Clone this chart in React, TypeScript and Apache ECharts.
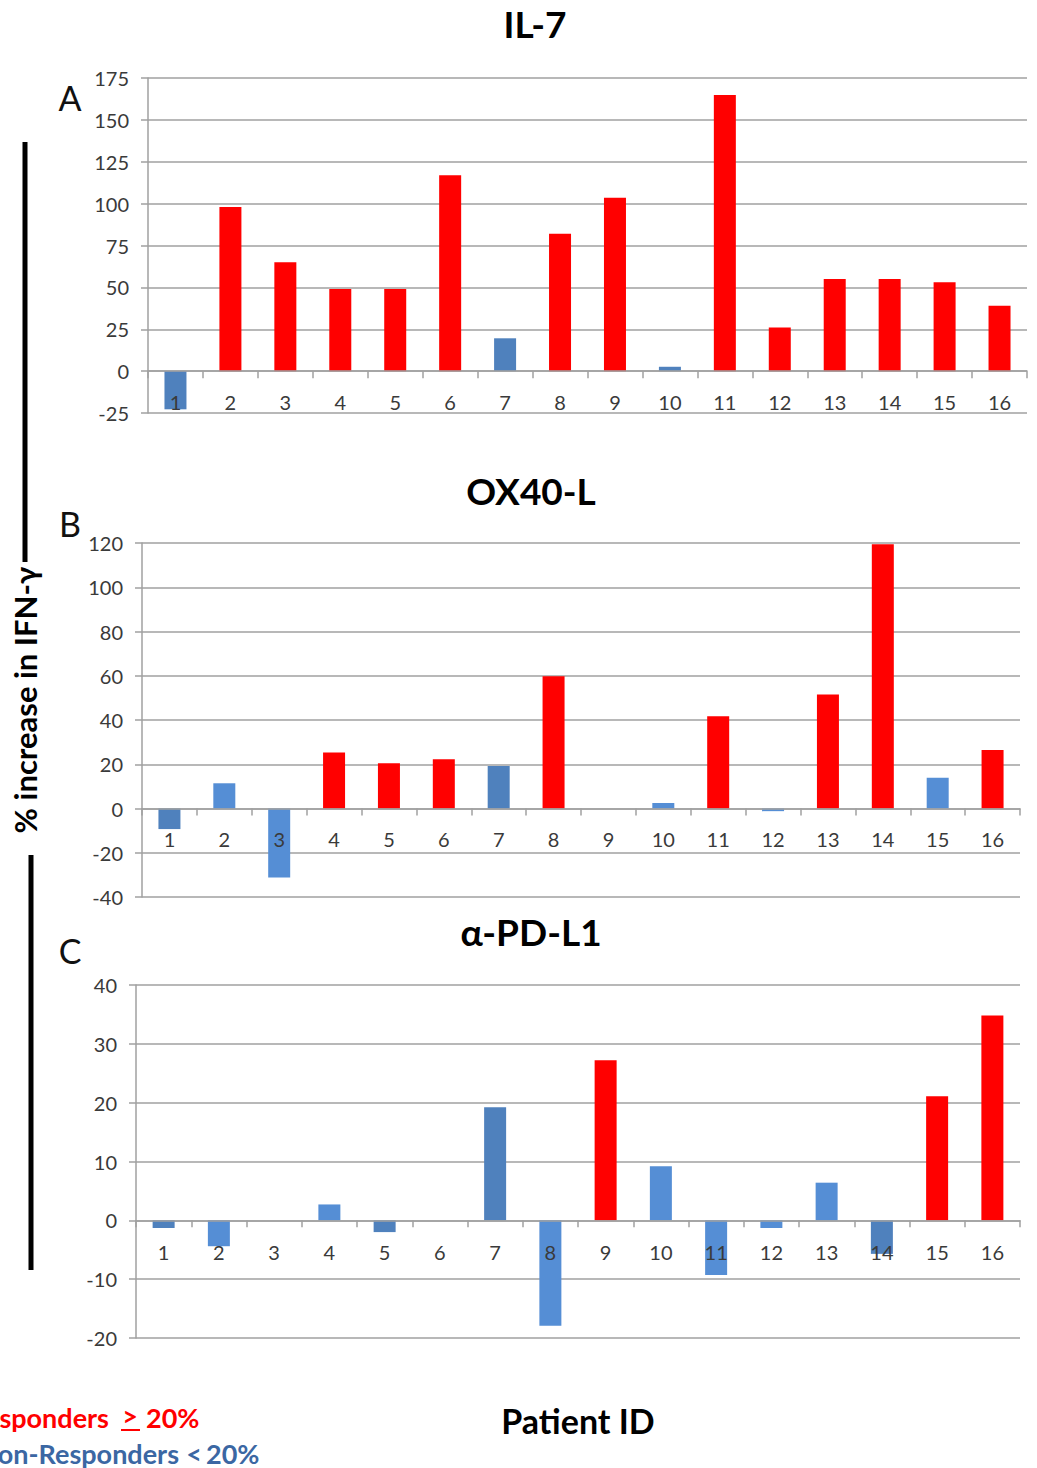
import React, { useEffect, useRef } from "react";
import * as echarts from "echarts";

const patientIds = ["1", "2", "3", "4", "5", "6", "7", "8", "9", "10", "11", "12", "13", "14", "15", "16"];
const il7Values = [-22.8, 98, 65, 49, 49, 117, 19.6, 82, 103.5, 2.6, 164.8, 26, 55, 55, 53, 39];
const ox40lValues = [-9.3, 11.4, -31.2, 25.3, 20.5, 22.3, 19.2, 59.8, 0, 2.5, 41.7, -1.2, 51.5, 119.4, 13.9, 26.4];
const pdl1Values = [-1.3, -4.4, 0, 2.7, -2, 0, 19.2, -17.9, 27.2, 9.2, -9.3, -1.3, 6.4, -5.7, 21.1, 34.8];
// patients whose non-responder bar is drawn in the darker blue shade
const il7DarkIds = ["1", "7", "10"];
const ox40lDarkIds = ["1", "7"];
const pdl1DarkIds = ["1", "5", "7", "14"];
const panelTitles = ["IL-7", "OX40-L", "α-PD-L1"];
const panelLetters = ["A", "B", "C"];
const responderThreshold = 20;

const RED = "#ff0000";
const DARK_BLUE = "#4f81bd";
const LIGHT_BLUE = "#558ed5";
const FONT = "Lato, 'Open Sans', sans-serif";
const AXIS_GRAY = "#a0a0a0";
const LABEL_COLOR = "#3a3a3a";

function buildData(values: number[], darkIds: string[]) {
  return values.map((v, i) => ({
    value: v,
    itemStyle: {
      color: v >= responderThreshold ? RED : darkIds.includes(patientIds[i]) ? DARK_BLUE : LIGHT_BLUE,
    },
  }));
}

export default function App() {
  const ref = useRef<HTMLDivElement>(null);

  useEffect(() => {
    if (!ref.current) return;
    const chart = echarts.init(ref.current, undefined, { renderer: "svg" });

    const grids = [
      { left: 148, right: 10, top: 78, height: 335 },
      { left: 142, right: 17, top: 543, height: 354 },
      { left: 136, right: 17, top: 985, height: 353 },
    ];
    const yRanges = [
      { min: -25, max: 175, interval: 25 },
      { min: -40, max: 120, interval: 20 },
      { min: -20, max: 40, interval: 10 },
    ];
    // category labels sit just under the zero line
    const xLabelMargins = [-21, -68, -96];

    const xAxes = grids.map((_, i) => ({
      type: "category",
      gridIndex: i,
      data: patientIds,
      z: 3,
      axisLine: { onZero: true, lineStyle: { color: AXIS_GRAY, width: 1.5 } },
      axisTick: { show: true, length: 7, inside: false, alignWithLabel: false, lineStyle: { color: AXIS_GRAY, width: 1.5 } },
      axisLabel: { margin: xLabelMargins[i], fontSize: 20, fontFamily: FONT, color: LABEL_COLOR },
      splitLine: { show: false },
    }));

    const yAxes = grids.map((_, i) => ({
      type: "value",
      gridIndex: i,
      min: yRanges[i].min,
      max: yRanges[i].max,
      interval: yRanges[i].interval,
      axisLine: { show: true, lineStyle: { color: AXIS_GRAY, width: 1.5 } },
      axisTick: { show: true, length: 7, lineStyle: { color: AXIS_GRAY, width: 1.5 } },
      axisLabel: { margin: 19, fontSize: 20, fontFamily: FONT, color: LABEL_COLOR },
      splitLine: { show: true, lineStyle: { color: AXIS_GRAY, width: 1.5 } },
    }));

    const seriesValues = [il7Values, ox40lValues, pdl1Values];
    const seriesDark = [il7DarkIds, ox40lDarkIds, pdl1DarkIds];
    const series = seriesValues.map((vals, i) => ({
      type: "bar",
      xAxisIndex: i,
      yAxisIndex: i,
      barWidth: 22,
      data: buildData(vals, seriesDark[i]),
    }));

    const titlePos = [
      { x: 535, y: 23 },
      { x: 531, y: 490 },
      { x: 531, y: 931 },
    ];
    const letterPos = [
      { x: 70, y: 97 },
      { x: 70, y: 523 },
      { x: 70, y: 950 },
    ];

    const textEl = (text: string, x: number, y: number, font: string, fill: string, align = "center") => ({
      type: "text",
      x,
      y,
      style: { text, font, fill, textAlign: align, textVerticalAlign: "middle" },
    });

    const graphic: any[] = [];
    panelTitles.forEach((t, i) => graphic.push(textEl(t, titlePos[i].x, titlePos[i].y, `bold 37px ${FONT}`, "#000")));
    panelLetters.forEach((t, i) => graphic.push(textEl(t, letterPos[i].x, letterPos[i].y, `34px ${FONT}`, "#111")));

    graphic.push({
      type: "text",
      x: 25,
      y: 700,
      rotation: Math.PI / 2,
      style: {
        text: "% increase in IFN-γ",
        font: `bold 31px ${FONT}`,
        fill: "#000",
        textAlign: "center",
        textVerticalAlign: "middle",
      },
    });
    graphic.push({ type: "line", shape: { x1: 25, y1: 142, x2: 25, y2: 562 }, style: { stroke: "#000", lineWidth: 5 } });
    graphic.push({ type: "line", shape: { x1: 31, y1: 855, x2: 31, y2: 1270 }, style: { stroke: "#000", lineWidth: 5 } });

    graphic.push(textEl("Patient ID", 578, 1420, `bold 34px ${FONT}`, "#000"));

    const legFont = `bold 27px ${FONT}`;
    const blueLeg = "#3b67a3";
    graphic.push(textEl("Responders", 109, 1417, legFont, RED, "right"));
    graphic.push(textEl(">", 130, 1415, legFont, RED, "center"));
    graphic.push({ type: "line", shape: { x1: 121, y1: 1430, x2: 140, y2: 1430 }, style: { stroke: RED, lineWidth: 2 } });
    graphic.push(textEl("20%", 146, 1417, legFont, RED, "left"));
    graphic.push(textEl("Non-Responders", 179, 1453, legFont, blueLeg, "right"));
    graphic.push(textEl("<", 194, 1453, legFont, blueLeg, "center"));
    graphic.push(textEl("20%", 206, 1453, legFont, blueLeg, "left"));

    chart.setOption({
      animation: false,
      backgroundColor: "#ffffff",
      grid: grids,
      xAxis: xAxes,
      yAxis: yAxes,
      series,
      graphic,
    });

    return () => chart.dispose();
  }, []);

  return <div ref={ref} style={{ position: "absolute", left: 0, top: 0, width: 1037, height: 1468 }} />;
}
